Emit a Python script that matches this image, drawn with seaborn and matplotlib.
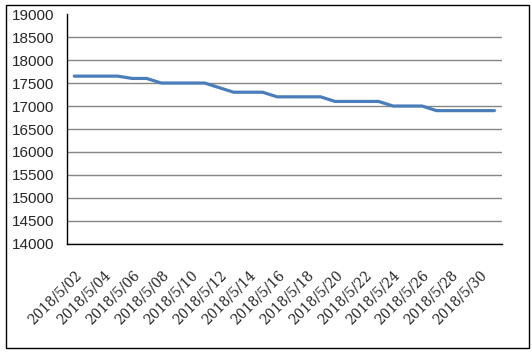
import numpy as np
import pandas as pd
import seaborn as sns
import matplotlib.pyplot as plt
from matplotlib.patches import Rectangle

# daily price, 2018/5/02 .. 2018/5/31
dates = ["2018/5/%02d" % d for d in range(2, 32)]
prices = [17650, 17650, 17650, 17650,
          17600, 17600,
          17500, 17500, 17500, 17500,
          17400,
          17300, 17300, 17300,
          17200, 17200, 17200, 17200,
          17100, 17100, 17100, 17100,
          17000, 17000, 17000,
          16900, 16900, 16900, 16900, 16900]
y_ticks = list(range(14000, 19001, 500))

df = pd.DataFrame({"idx": np.arange(len(dates)), "date": dates, "price": prices})

sns.set_style("white")
fig = plt.figure(figsize=(5.32, 3.52), dpi=100)
ax = fig.add_axes([0.126, 0.307, 0.817, 0.653])

sns.lineplot(data=df, x="idx", y="price", ax=ax, color="#4A7EBB", linewidth=2.3)

ax.set_xlim(-0.5, len(dates) - 0.5)
ax.set_ylim(14000, 19000)
ax.set_yticks(y_ticks)
ax.set_yticklabels([str(v) for v in y_ticks], fontsize=11, family="Liberation Sans")
ax.set_xticks(df["idx"][::2])
ax.set_xticklabels(df["date"][::2], rotation=45, ha="right", va="top",
                   rotation_mode="anchor", fontsize=9.8, family="DejaVu Serif")
ax.tick_params(axis="both", length=0)
ax.tick_params(axis="x", pad=17)
ax.tick_params(axis="y", pad=9)
ax.set_xlabel("")
ax.set_ylabel("")

ax.grid(axis="y", color="#868686", linewidth=1)
ax.yaxis.get_gridlines()[-1].set_visible(False)
ax.set_axisbelow(True)

for s in ["top", "right"]:
    ax.spines[s].set_visible(False)
for s in ["left", "bottom"]:
    ax.spines[s].set_color("black")
    ax.spines[s].set_linewidth(1)

# chart area border
fig.patches.append(Rectangle((6 / 532, 4 / 352), 523 / 532, 343 / 352,
                             transform=fig.transFigure, fill=False,
                             edgecolor="black", linewidth=1))

fig.savefig("out.png", dpi=100)
